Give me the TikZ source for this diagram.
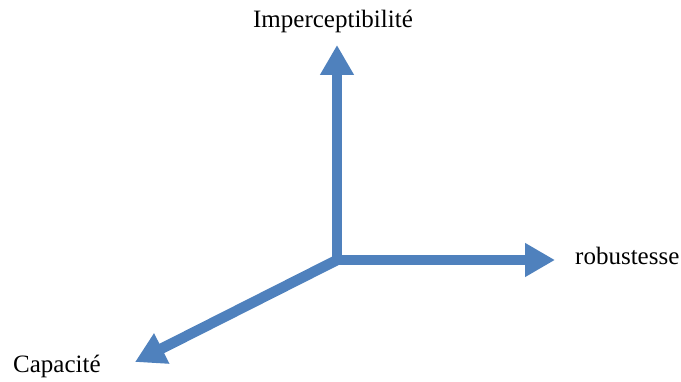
\documentclass[tikz,border=0pt]{standalone}
\usepackage{fontspec}
\setmainfont{Liberation Serif}
\usetikzlibrary{arrows.meta}
\definecolor{axisblue}{RGB}{79,129,189}
\tikzset{
  axis/.style={draw=axisblue, line width=10.5pt,
    -{Triangle[length=30pt,width=32pt]}, fill=axisblue},
  lbl/.style={inner sep=0pt, font=\fontsize{25}{29}\selectfont, text=black}
}
\begin{document}
\begin{tikzpicture}[x=1pt,y=-1pt]
\useasboundingbox (0,0) rectangle (681,382);
\coordinate (O) at (337,260);
\coordinate (Ov) at (337,265.25);
\coordinate (Oh) at (331.75,260);
\coordinate (top) at (337,45);
\coordinate (right) at (555,260);
\coordinate (left) at (135,362);
\draw[axis] (Ov) -- (top);
\draw[axis] (Oh) -- (right);
\draw[axis] (O) -- (left);
\node[lbl, anchor=base] (imp) at (333,28) {Imperceptibilité};
\node[lbl, anchor=base west] (rob) at (575,265) {robustesse};
\node[lbl, anchor=base west] (cap) at (13,373) {Capacité};
\end{tikzpicture}
\end{document}
